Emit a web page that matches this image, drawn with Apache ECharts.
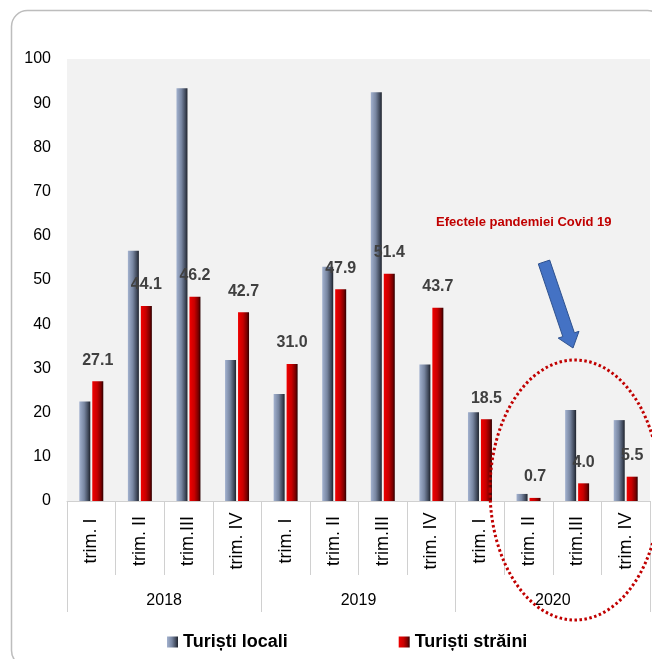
<!DOCTYPE html>
<html>
<head>
<meta charset="utf-8">
<script src="https://cdn.jsdelivr.net/npm/echarts@6/dist/echarts.min.js"></script>
<style>
  html, body { margin: 0; padding: 0; background: #fff; }
  #chart { width: 652px; height: 659px; }
</style>
</head>
<body>
<div id="chart"></div>
<script>
const quarters = [
  "trim. I", "trim. II", "trim.III", "trim. IV",
  "trim. I", "trim. II", "trim.III", "trim. IV",
  "trim. I", "trim. II", "trim.III", "trim. IV",
];
const years = ["2018", "2019", "2020"];
const localTourists = [22.5, 56.6, 93.4, 31.9, 24.2, 53.0, 92.5, 30.9, 20.1, 1.6, 20.6, 18.3];
const foreignTourists = [27.1, 44.1, 46.2, 42.7, 31.0, 47.9, 51.4, 43.7, 18.5, 0.7, 4.0, 5.5];
const yTicks = [0, 100, 10]; // min, max, step

const FONT = "'Liberation Sans', Arial, sans-serif";
const lineGray = "#d0d0d0";

const chart = echarts.init(document.getElementById("chart"), null, {
  renderer: "canvas",
});

const grayBar = new echarts.graphic.LinearGradient(0, 0, 1, 0, [
  { offset: 0, color: "#a3b2cf" },
  { offset: 0.45, color: "#7886a1" },
  { offset: 0.8, color: "#414a5c" },
  { offset: 1, color: "#1e222b" },
]);
const redBar = new echarts.graphic.LinearGradient(0, 0, 1, 0, [
  { offset: 0, color: "#f00000" },
  { offset: 0.45, color: "#c80000" },
  { offset: 0.8, color: "#7a0000" },
  { offset: 1, color: "#2e0000" },
]);

const option = {
  backgroundColor: "#fff",
  animation: false,
  grid: {
    left: 67,
    right: 2,
    top: 59,
    bottom: 158,
    show: true,
    backgroundColor: "#f2f2f2",
    borderWidth: 0,
    containLabel: false,
  },
  legend: {
    left: 162,
    top: 628,
    itemWidth: 11,
    itemHeight: 11,
    itemGap: 111,
    icon: "rect",
    textStyle: {
      fontFamily: FONT,
      fontSize: 18,
      fontWeight: "bold",
      color: "#000",
    },
    data: ["Turiști locali", "Turiști străini"],
  },
  xAxis: [
    {
      type: "category",
      data: quarters,
      position: "bottom",
      axisLine: { show: true, lineStyle: { color: lineGray, width: 1 } },
      axisTick: { show: true, alignWithLabel: false, length: 74, lineStyle: { color: lineGray } },
      axisLabel: {
        interval: 0,
        rotate: 90,
        align: "center",
        verticalAlign: "middle",
        margin: 40,
        fontFamily: FONT,
        fontSize: 18,
        color: "#000",
      },
      splitLine: { show: false },
    },
    {
      type: "category",
      data: years,
      position: "bottom",
      axisLine: { show: false },
      axisTick: { show: true, alignWithLabel: false, length: 111, lineStyle: { color: lineGray } },
      axisLabel: {
        interval: 0,
        margin: 92,
        fontFamily: FONT,
        fontSize: 16,
        color: "#000",
      },
      splitLine: { show: false },
    },
  ],
  yAxis: {
    type: "value",
    min: yTicks[0],
    max: yTicks[1],
    interval: yTicks[2],
    axisLine: { show: false },
    axisTick: { show: false },
    splitLine: { show: false },
    axisLabel: {
      margin: 16,
      fontFamily: FONT,
      fontSize: 16,
      color: "#000",
    },
  },
  series: [
    {
      name: "Turiști locali",
      type: "bar",
      xAxisIndex: 0,
      barWidth: 11,
      barGap: "18%",
      itemStyle: { color: grayBar },
      data: localTourists,
    },
    {
      name: "Turiști străini",
      type: "bar",
      xAxisIndex: 0,
      barWidth: 11,
      itemStyle: { color: redBar },
      label: {
        show: true,
        position: "top",
        distance: 13,
        fontFamily: FONT,
        fontSize: 16,
        fontWeight: "bold",
        color: "#404040",
        formatter: (p) => p.value.toFixed(1),
      },
      data: foreignTourists,
    },
  ],
  graphic: [
    // outer rounded frame
    {
      type: "rect",
      silent: true,
      shape: { x: 11.5, y: 10.5, width: 652, height: 656, r: 16 },
      style: { fill: "none", stroke: "#bdbdbd", lineWidth: 1.5 },
    },
    // annotation
    {
      type: "text",
      left: 436,
      top: 216,
      style: {
        text: "Efectele pandemiei Covid 19",
        font: "bold 13px 'Liberation Sans', Arial, sans-serif",
        fill: "#c00000",
      },
    },
    {
      type: "polygon",
      silent: true,
      shape: {
        points: [
          [549.7, 260.1], [574.4, 332.8], [579.0, 331.3], [573, 348],
          [558.2, 338.1], [562.8, 336.6], [538.3, 263.9],
        ],
      },
      style: { fill: "#4472c4", stroke: "#2f528f", lineWidth: 1 },
    },
    {
      type: "ellipse",
      silent: true,
      shape: { cx: 575, cy: 490, rx: 85, ry: 130 },
      style: { fill: "none", stroke: "#c00000", lineWidth: 3, lineDash: [2.5, 2.5] },
      z: 10,
    },
  ],
};

chart.setOption(option);
</script>
</body>
</html>
